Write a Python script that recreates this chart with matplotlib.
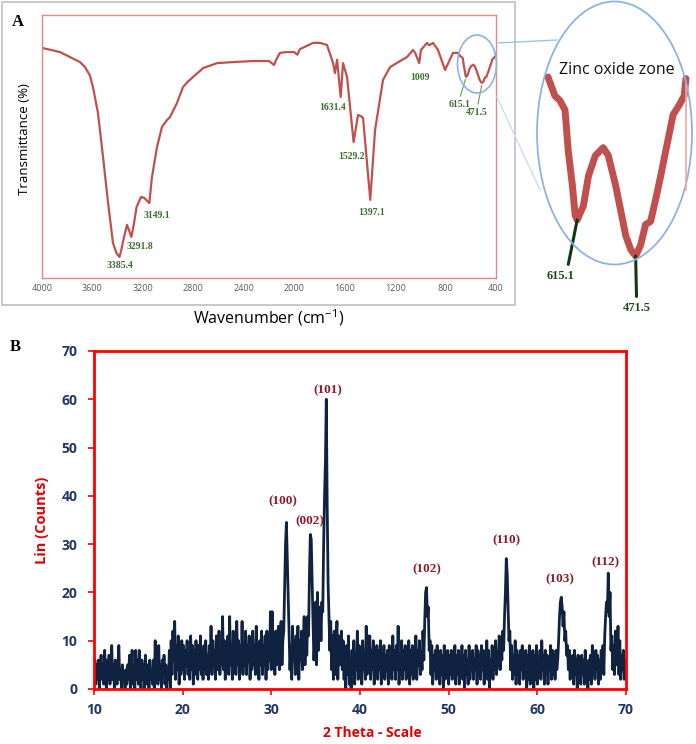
import numpy as np
import matplotlib.pyplot as plt
from matplotlib.patches import Rectangle, Ellipse
from matplotlib.lines import Line2D

plt.rcParams['font.family'] = ['Open Sans', 'DejaVu Sans']
plt.rcParams['mathtext.default'] = 'regular'

# ---- FTIR spectrum (panel A) ----
ftir_wn = np.array([
    4000, 3857, 3699, 3659, 3620, 3596, 3556, 3516, 3476, 3437,
    3410, 3385.4, 3372, 3355, 3326, 3305, 3291.8, 3275, 3250, 3215,
    3190, 3149.1, 3128, 3088, 3049, 3010, 2985, 2930, 2882, 2840,
    2803, 2723, 2612, 2485, 2327, 2200, 2160, 2140, 2113,
    2060, 2000, 1975, 1955, 1851, 1796, 1740, 1692, 1677, 1660,
    1631.4, 1613, 1581, 1529.2, 1494, 1470, 1454, 1397.1, 1359, 1296,
    1240, 1160, 1106, 1058, 1040, 1009, 995, 947, 930, 899,
    860, 804, 741,
    700, 685, 674, 663, 656, 647, 641, 636.5, 623, 612,
    597, 580, 569, 553, 542, 531, 520, 509.5, 498.5, 488,
    477, 466, 455, 444, 428, 415, 404, 400])
ftir_t = np.array([
    87.5, 85.9, 82.1, 80.2, 77.0, 72.6, 62.7, 46.0, 28.5, 13.3,
    9.5, 8.0, 10.5, 14.5, 20.2, 17.5, 15.6, 19.5, 27.0, 30.8,
    30.5, 28.5, 38.4, 49.8, 57.4, 60.0, 61.2, 66.5, 72.6, 74.8,
    76.4, 79.8, 81.7, 82.1, 82.5, 82.5, 81.0, 83.3, 85.6,
    85.9, 85.9, 84.9, 87.0, 89.4, 89.4, 88.6, 81.7, 77.9, 83.0,
    68.8, 81.7, 76.4, 51.7, 62.0, 61.5, 60.8, 29.7, 56.3, 75.3,
    80.2, 82.5, 84.0, 86.7, 85.5, 81.7, 86.7, 89.4, 88.5, 89.4,
    86.7, 79.1, 85.6,
    85.6, 84.4, 84.1, 83.5, 80.9, 78.7, 76.8, 76.5, 77.4, 79.3,
    80.6, 81.1, 80.6, 78.7, 77.1, 75.5, 74.6, 74.2, 74.9, 76.2,
    76.4, 77.8, 79.3, 80.9, 83.2, 83.8, 84.4, 85.5])
ftir_bands = [3385.4, 3291.8, 3149.1, 1631.4, 1529.2, 1397.1, 1009, 615.1, 471.5]
ftir_band_text = ['3385.4', '3291.8', '3149.1', '1631.4', '1529.2', '1397.1',
                  '1009', '615.1', '471.5']
ftir_ticks = [4000, 3600, 3200, 2800, 2400, 2000, 1600, 1200, 800, 400]

# ---- XRD pattern (panel B), 10..70 deg in 0.1 deg steps ----
xrd_counts = [
    3, 6, 1, 5, 2, 6, 0, 4, 7, 2,          # 10
    5, 1, 8, 3, 0, 6, 2, 7, 1, 4,          # 11
    9, 2, 5, 0, 6, 3, 1, 5, 9, 2,          # 12
    4, 0, 5, 2, 3, 0, 4, 1, 5, 2,          # 13
    7, 0, 4, 8, 1, 5, 0, 8, 2, 6,          # 14
    1, 8, 3, 0, 6, 2, 5, 0, 7, 3,          # 15
    1, 5, 0, 6, 2, 4, 1, 6, 0, 10,         # 16
    3, 6, 1, 9, 2, 5, 0, 6, 3, 7,          # 17
    1, 5, 0, 4, 2, 8, 0, 10, 3, 12,        # 18
    6, 14, 2, 9, 4, 11, 1, 8, 3, 10,       # 19
    4, 9, 2, 8, 5, 10, 3, 7, 2, 11,        # 20
    4, 9, 1, 8, 3, 10, 5, 2, 9, 4,         # 21
    11, 3, 8, 2, 9, 4, 10, 3, 7, 2,        # 22
    9, 4, 13, 3, 10, 5, 8, 2, 11, 4,       # 23
    7, 12, 3, 9, 5, 15, 4, 10, 2, 8,       # 24
    4, 11, 3, 15, 5, 9, 2, 12, 4, 8,       # 25
    3, 14, 5, 10, 2, 9, 4, 14, 3, 8,       # 26
    5, 12, 3, 9, 6, 11, 2, 8, 4, 12,       # 27
    5, 9, 3, 13, 4, 8, 2, 10, 5, 12,       # 28
    3, 9, 5, 11, 2, 12, 4, 8, 6, 16,       # 29
    4, 16, 6, 10, 3, 12, 5, 9, 13, 4,      # 30
    8, 14, 5, 10, 12, 21, 30, 34.5, 27, 20,  # 31
    12, 4, 9, 2, 13, 6, 10, 3, 11, 5,      # 32
    13, 2, 10, 6, 12, 4, 9, 15, 5, 14,     # 33
    7, 15, 11, 24, 32, 31, 22, 14, 6, 10,  # 34
    18, 5, 20, 8, 15, 17, 10, 18, 16, 30,  # 35
    40, 47, 60, 38, 22, 15, 8, 14, 4, 11,  # 36
    2, 12, 3, 9, 14, 2, 11, 5, 8, 12,      # 37
    4, 10, 2, 7, 0, 9, 3, 11, 1, 6,        # 38
    0, 8, 3, 10, 1, 7, 4, 12, 2, 9,        # 39
    3, 8, 1, 10, 4, 7, 2, 13, 3, 11,       # 40
    5, 11, 2, 8, 4, 10, 1, 7, 3, 9,        # 41
    2, 8, 4, 10, 1, 6, 3, 9, 2, 7,         # 42
    4, 8, 1, 9, 3, 6, 2, 11, 4, 8,         # 43
    2, 9, 4, 13, 1, 7, 3, 10, 2, 8,        # 44
    4, 9, 2, 7, 5, 10, 1, 8, 3, 9,         # 45
    2, 6, 4, 11, 2, 8, 5, 10, 3, 7,        # 46
    4, 12, 6, 14, 20, 21, 15, 17, 8, 10,   # 47
    3, 9, 1, 7, 4, 8, 2, 9, 3, 6,          # 48
    1, 8, 3, 7, 0, 9, 2, 6, 4, 8,          # 49
    1, 7, 3, 8, 2, 6, 4, 9, 1, 7,          # 50
    3, 8, 1, 6, 4, 9, 2, 7, 0, 8,          # 51
    3, 6, 1, 9, 2, 7, 4, 8, 2, 6,          # 52
    4, 9, 1, 8, 3, 7, 2, 9, 4, 8,          # 53
    1, 7, 3, 10, 2, 8, 0, 6, 3, 9,         # 54
    2, 8, 4, 10, 3, 7, 5, 11, 4, 9,        # 55
    6, 12, 8, 15, 20, 27, 24, 17, 10, 12,  # 56
    4, 9, 2, 7, 3, 10, 1, 8, 3, 7,         # 57
    1, 8, 4, 9, 2, 6, 3, 8, 0, 7,          # 58
    2, 9, 1, 6, 3, 8, 0, 7, 2, 9,          # 59
    1, 6, 3, 8, 2, 10, 4, 7, 1, 8,         # 60
    3, 7, 1, 6, 4, 9, 2, 8, 3, 7,          # 61
    2, 8, 4, 6, 10, 15, 18, 19, 17, 13,    # 62
    16, 10, 12, 7, 9, 4, 8, 2, 6, 3,       # 63
    7, 1, 8, 3, 6, 0, 7, 2, 5, 1,          # 64
    7, 3, 6, 1, 8, 2, 5, 0, 6, 2,          # 65
    7, 1, 9, 3, 6, 2, 8, 4, 7, 1,          # 66
    6, 2, 8, 4, 9, 3, 11, 15, 18, 16,      # 67
    24, 15, 20, 8, 11, 4, 9, 3, 12, 5,     # 68
    8, 13, 3, 10, 2, 7, 4, 8, 2, 6,        # 69
    5]                                     # 70
two_theta = np.round(10 + 0.1 * np.arange(len(xrd_counts)), 1)
hkl_pos = [31.7, 34.4, 36.2, 47.5, 56.5, 62.7, 68.0]
hkl_text = ['(100)', '(002)', '(101)', '(102)', '(110)', '(103)', '(112)']

W, H = 696, 744
fig = plt.figure(figsize=(W / 100, H / 100), dpi=100)


def rect(l, t, r, b):
    return [l / W, 1 - b / H, (r - l) / W, (b - t) / H]


def fxy(x, y):
    return (x / W, 1 - y / H)


# ===================== Panel A =====================
fig.patches.append(Rectangle(fxy(2, 305), 513 / W, 303 / H, transform=fig.transFigure,
                             fill=False, ec='#bfbfbf', lw=1.2))

axA = fig.add_axes(rect(42, 15, 496, 278))
axA.plot(ftir_wn, ftir_t, color='#c0504d', lw=1.6, solid_joinstyle='round')
axA.set_xlim(4000, 400)
axA.set_ylim(0, 100)
axA.set_xticks(ftir_ticks)
axA.set_yticks([])
axA.tick_params(axis='x', length=0, pad=4, labelsize=6.5, labelcolor='#595959')
for s in axA.spines.values():
    s.set_color('#e08888')
    s.set_linewidth(1.0)

# band labels sit at the drawn minimum nearest to each band value
offsets = [(0, -9), (9, -10), (8, -12), (-8, -10), (-2, -14), (1, -13), (1, -14),
           (-7, -28), (-5, -30)]
for val, txt, (dx, dy) in zip(ftir_bands, ftir_band_text, offsets):
    near = np.abs(ftir_wn - val) < 45
    i = np.flatnonzero(near)[np.argmin(ftir_t[near])]
    kw = {}
    if txt in ('615.1', '471.5'):
        kw['arrowprops'] = dict(arrowstyle='-', color='#6a9a4a', lw=0.8,
                                shrinkA=1, shrinkB=2, relpos=(0.5, 1.0))
    axA.annotate(txt, xy=(ftir_wn[i], ftir_t[i]), xytext=(dx, dy),
                 textcoords='offset pixels', ha='center', va='center',
                 fontsize=7, fontweight='bold', family='Liberation Serif',
                 color='#3b6e2a', **kw)

fig.text(*fxy(269, 318), r'Wavenumber (cm$^{-1}$)', ha='center', va='center', fontsize=11.5)
fig.text(*fxy(25, 139), 'Transmittance (%)', ha='center', va='center', fontsize=9.5,
         rotation=90)
fig.text(*fxy(18, 22), 'A', ha='center', va='center', fontsize=12, fontweight='bold',
         family='Liberation Serif')

# zoom of the zinc oxide zone
fig.patches.append(Ellipse(fxy(477, 64), 39 / W, 58 / H, transform=fig.transFigure,
                           fill=False, ec='#8db3e2', lw=1.2))
fig.lines.append(Line2D([497 / W, 557 / W], [1 - 43 / H, 1 - 40 / H],
                        transform=fig.transFigure, color='#9dc3e6', lw=1))
fig.lines.append(Line2D([497 / W, 540 / W], [1 - 97 / H, 1 - 190 / H],
                        transform=fig.transFigure, color='#c9ddf2', lw=1))
fig.patches.append(Ellipse(fxy(614.5, 133), 155 / W, 263 / H, transform=fig.transFigure,
                           fill=False, ec='#8db3e2', lw=1.3))
fig.lines.append(Line2D([686 / W, 686 / W], [1 - 85 / H, 1 - 190 / H],
                        transform=fig.transFigure, color='#f4a6a6', lw=1.2))

axI = fig.add_axes(rect(548, 77, 686, 256))
axI.axis('off')
zone = ftir_wn <= 700
axI.plot(ftir_wn[zone], ftir_t[zone], color='#c0504d', lw=5, solid_capstyle='round',
         solid_joinstyle='round', clip_on=False)
axI.set_xlim(700, 400)
axI.set_ylim(ftir_t[zone].min(), ftir_t[zone].max())
zone_offsets = [(-17, -56), (1, -52)]
zone_relpos = [(0.75, 1.0), (0.5, 1.0)]
for val, txt, off, rp in zip(ftir_bands[-2:], ftir_band_text[-2:], zone_offsets, zone_relpos):
    near = np.abs(ftir_wn - val) < 45
    i = np.flatnonzero(near)[np.argmin(ftir_t[near])]
    axI.annotate(txt, xy=(ftir_wn[i], ftir_t[i]), xytext=off, textcoords='offset pixels',
                 ha='center', va='center', fontsize=9, fontweight='bold',
                 family='Liberation Serif', color='#1f4d1f',
                 arrowprops=dict(arrowstyle='-', color='#0f3a0f', lw=2.2,
                                 shrinkA=2, shrinkB=0, relpos=rp),
                 annotation_clip=False)
fig.text(*fxy(617, 70), 'Zinc oxide zone', ha='center', va='center', fontsize=11.5,
         color='#111111')

# ===================== Panel B =====================
axB = fig.add_axes(rect(94, 351, 626, 689))
axB.plot(two_theta, xrd_counts, color='#0f2340', lw=2.0)
axB.set_xlim(10, 70)
axB.set_ylim(0, 70)
axB.set_xticks(range(10, 71, 10))
axB.set_yticks(range(0, 71, 10))
for s in axB.spines.values():
    s.set_color('#ff0000')
    s.set_linewidth(2)
    s.set_zorder(3)
axB.tick_params(direction='out', length=4, width=1.2, color='#ff0000',
                labelsize=10, labelcolor='#1f3864')
axB.tick_params(axis='x', pad=6)
axB.tick_params(axis='y', pad=8)
for lab in axB.get_xticklabels() + axB.get_yticklabels():
    lab.set_fontweight('bold')

hkl_offsets = [(-4, 21), (-1, 13), (2, 9), (0, 18), (0, 18), (-1, 18), (-3, 11)]
counts = np.array(xrd_counts, dtype=float)
for pos, txt, off in zip(hkl_pos, hkl_text, hkl_offsets):
    h = np.interp(pos, two_theta, counts)
    axB.annotate(txt, xy=(pos, h), xytext=off, textcoords='offset pixels',
                 ha='center', va='center', fontsize=9.5, fontweight='bold',
                 family='Liberation Serif', color='#8b1a2b')

fig.text(*fxy(42, 520), 'Lin (Counts)', ha='center', va='center', fontsize=10.5,
         fontweight='bold', color='#e00000', rotation=90)
fig.text(*fxy(372, 733), '2 Theta - Scale', ha='center', va='center', fontsize=10,
         fontweight='bold', color='#e00000')
fig.text(*fxy(15, 347), 'B', ha='center', va='center', fontsize=12, fontweight='bold',
         family='Liberation Serif')

fig.savefig('out.png', dpi=100)
